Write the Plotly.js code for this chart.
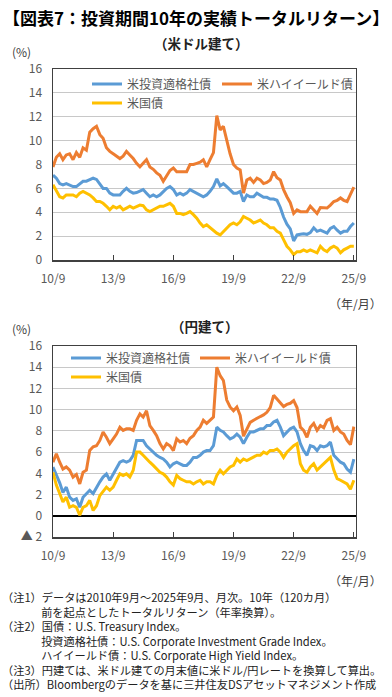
<!DOCTYPE html>
<html>
<head>
<meta charset="utf-8">
<script src="https://cdn.plot.ly/plotly-3.0.1.min.js"></script>
<style>
html,body{margin:0;padding:0;background:#fff;}
#chart{width:392px;height:697px;}
</style>
</head>
<body>
<div id="chart"></div>
<script>
// ---- data (every 2 months, 2010/9 - 2025/9) ----
const dates = [
'2010-09-01','2010-11-01',
'2011-01-01','2011-03-01','2011-05-01','2011-07-01','2011-09-01','2011-11-01',
'2012-01-01','2012-03-01','2012-05-01','2012-07-01','2012-09-01','2012-11-01',
'2013-01-01','2013-03-01','2013-05-01','2013-07-01','2013-09-01','2013-11-01',
'2014-01-01','2014-03-01','2014-05-01','2014-07-01','2014-09-01','2014-11-01',
'2015-01-01','2015-03-01','2015-05-01','2015-07-01','2015-09-01','2015-11-01',
'2016-01-01','2016-03-01','2016-05-01','2016-07-01','2016-09-01','2016-11-01',
'2017-01-01','2017-03-01','2017-05-01','2017-07-01','2017-09-01','2017-11-01',
'2018-01-01','2018-03-01','2018-05-01','2018-07-01','2018-09-01','2018-11-01',
'2019-01-01','2019-03-01','2019-05-01','2019-07-01','2019-09-01','2019-11-01',
'2020-01-01','2020-03-01','2020-05-01','2020-07-01','2020-09-01','2020-11-01',
'2021-01-01','2021-03-01','2021-05-01','2021-07-01','2021-09-01','2021-11-01',
'2022-01-01','2022-03-01','2022-05-01','2022-07-01','2022-09-01','2022-11-01',
'2023-01-01','2023-03-01','2023-05-01','2023-07-01','2023-09-01','2023-11-01',
'2024-01-01','2024-03-01','2024-05-01','2024-07-01','2024-09-01','2024-11-01',
'2025-01-01','2025-03-01','2025-05-01','2025-07-01','2025-09-01'
];

const seriesNames = ['米投資適格社債','米ハイイールド債','米国債'];

// USD basis
const usdIG = [
7.1,6.85,6.4,6.3,6.4,6.3,6.15,6.15,6.4,6.6,
6.6,6.7,6.85,6.75,6.4,6.0,6.0,5.6,5.45,5.45,
5.45,5.75,6.0,5.75,5.6,5.65,5.75,5.9,5.6,5.3,
5.45,5.3,5.45,5.75,6.0,6.15,5.9,5.45,5.6,5.45,
5.6,5.9,5.75,5.6,5.45,5.3,5.45,5.75,6.15,6.8,
6.2,6.4,6.15,5.9,5.6,5.6,5.75,4.9,5.45,5.3,
5.3,5.6,5.4,5.25,5.25,5.1,5.1,5.0,4.4,3.6,
3.0,2.6,1.6,2.1,2.15,2.2,2.15,2.3,2.7,2.4,
2.5,2.4,2.25,2.65,2.8,2.5,2.25,2.4,2.4,2.8,
3.1
];
const usdHY = [
7.8,8.6,8.9,8.4,8.8,8.9,8.4,9.0,8.6,9.4,
9.2,10.7,11.0,11.2,10.5,10.2,9.4,9.1,8.9,8.7,
8.5,8.7,9.1,8.8,8.5,8.1,7.8,8.1,8.4,7.8,
7.6,7.3,7.1,6.6,7.1,7.5,7.7,7.4,7.4,7.4,
7.4,8.0,8.0,8.1,8.2,8.4,7.8,8.4,9.0,12.1,
10.9,11.2,10.0,8.9,8.0,7.7,7.55,5.6,6.7,6.85,
6.5,6.85,6.7,6.4,6.5,6.7,7.4,6.9,6.7,5.9,
5.3,4.8,3.9,4.2,4.05,4.05,4.05,4.5,4.2,3.9,
4.4,4.35,4.35,4.6,4.9,5.0,5.2,5.0,4.9,5.5,
6.1
];
const usdTsy = [
6.3,5.75,5.3,5.2,5.45,5.45,5.45,5.3,5.6,5.75,
5.6,5.45,5.2,4.9,4.9,4.75,4.5,4.2,4.5,4.35,
4.5,4.2,4.35,4.5,4.35,4.5,4.6,4.55,4.2,4.05,
4.2,4.35,4.5,4.5,4.6,4.75,4.5,3.9,3.9,3.8,
3.9,4.05,3.8,3.5,3.1,2.8,2.95,2.7,2.5,2.25,
2.1,2.4,2.7,2.95,3.1,2.95,3.2,3.65,3.5,3.35,
3.1,3.2,3.35,3.1,2.95,2.7,2.7,2.4,2.25,1.7,
1.15,0.85,0.45,0.7,0.7,0.85,0.7,0.85,0.7,0.6,
1.15,0.85,0.7,1.0,1.15,1.0,0.6,0.85,1.0,1.15,
1.15
];

// JPY basis
const jpyIG = [
4.6,3.9,3.1,2.2,2.7,1.75,1.45,1.6,0.8,1.75,
2.1,2.4,2.1,2.7,3.2,3.65,3.95,3.35,3.95,4.4,
5.05,5.2,5.05,5.2,5.7,7.1,7.1,7.1,6.6,6.3,
6.0,5.7,5.5,5.35,5.05,4.6,4.9,5.05,4.9,4.75,
4.75,5.05,5.5,5.5,5.7,6.0,6.15,6.15,6.6,8.35,
8.05,7.9,7.55,7.25,7.4,7.7,7.4,6.8,7.4,7.9,
7.9,8.05,8.2,8.2,8.5,8.5,8.85,9.0,8.35,7.55,
7.9,8.2,8.35,7.9,6.8,6.15,5.7,6.6,6.5,6.15,
6.6,6.5,6.6,6.95,5.7,5.35,5.05,4.9,4.4,4.1,
5.35
];
const jpyHY = [
5.05,5.85,5.05,4.4,4.6,4.3,3.65,3.9,3.0,4.1,
4.3,6.15,6.5,6.6,7.1,7.9,7.4,6.8,7.25,7.7,
8.35,8.05,8.2,8.2,8.05,9.0,9.6,9.3,9.9,8.5,
8.05,7.55,6.8,6.3,6.8,6.6,6.15,7.25,6.95,7.1,
6.8,7.3,7.55,8.05,8.35,9.0,8.7,9.0,9.3,14.0,
13.2,12.75,10.9,10.25,9.9,10.25,9.45,7.5,8.2,8.8,
9.0,9.2,9.35,9.5,9.75,10.2,11.35,11.0,10.6,10.3,
10.5,10.6,10.85,10.2,8.35,8.05,7.4,8.35,8.7,8.05,
8.5,8.3,9.0,9.15,8.05,8.35,7.9,7.7,7.1,6.7,
8.4
];
const jpyTsy = [
4.1,2.9,2.1,1.3,1.75,0.8,0.95,0.8,0.05,0.8,
0.95,1.45,0.5,0.95,1.9,2.25,2.7,2.4,2.7,3.35,
3.95,3.8,3.95,3.65,4.3,6.0,6.0,5.7,5.35,5.05,
4.75,4.4,4.1,3.95,3.65,3.2,2.9,3.8,3.5,3.35,
3.2,3.2,3.0,3.2,3.35,3.0,3.2,3.2,3.0,3.8,
4.3,3.95,4.3,4.6,4.75,5.35,5.05,5.35,5.2,5.35,
5.5,5.7,5.7,6.0,5.85,6.15,6.15,6.3,6.0,5.5,
6.0,6.3,6.6,6.8,4.9,4.3,4.1,4.6,4.9,4.3,
4.6,4.9,5.2,5.5,4.3,3.5,3.35,3.2,3.0,2.5,
3.35
];

const xTickVals = ['2010-09-01','2013-09-01','2016-09-01','2019-09-01','2022-09-01','2025-09-01'];
const xTickText = ['10/9','13/9','16/9','19/9','22/9','25/9'];
const yTickVals1 = [0,2,4,6,8,10,12,14,16];
const yTickText1 = ['0','2','4','6','8','10','12','14','16'];
const yTickVals2 = [-2,0,2,4,6,8,10,12,14,16];
const yTickText2 = ['▲ 2','0','2','4','6','8','10','12','14','16'];

const footnoteLines = [
  '（注1）データは2010年9月～2025年9月、月次。10年（120カ月）',
  '\u3000\u3000\u3000\u2002前を起点としたトータルリターン（年率換算）。',
  '（注2）国債：U.S. Treasury Index。',
  '\u3000\u3000\u3000\u2002投資適格社債：U.S. Corporate Investment Grade Index。',
  '\u3000\u3000\u3000\u2002ハイイールド債：U.S. Corporate High Yield Index。',
  '（注3）円建ては、米ドル建ての月末値に米ドル/円レートを換算して算出。',
  '（出所）Bloombergのデータを基に三井住友DSアセットマネジメント作成'
];

// ---- styling ----
const W = 392, H = 697;
const FONT = '"Noto Sans CJK JP", "Noto Sans", sans-serif';
const colors = ['#5B9BD5','#ED7D31','#FFC000'];
const px = v => v / W;
const py = v => 1 - v / H;

function mk(y, i, xa, ya, leg) {
  return {
    x: dates, y: y, type: 'scatter', mode: 'lines',
    name: seriesNames[i], xaxis: xa, yaxis: ya, legend: leg,
    line: {color: colors[i], width: 3},
    hoverinfo: 'skip'
  };
}

const data = [
  mk(usdIG, 0, 'x', 'y', 'legend'),
  mk(usdHY, 1, 'x', 'y', 'legend2'),
  mk(usdTsy, 2, 'x', 'y', 'legend3'),
  mk(jpyIG, 0, 'x2', 'y2', 'legend4'),
  mk(jpyHY, 1, 'x2', 'y2', 'legend5'),
  mk(jpyTsy, 2, 'x2', 'y2', 'legend6')
];

const tickFont = {family: FONT, size: 12, color: '#595959'};
function xAxis(anchor) {
  return {
    domain: [px(53), px(355.5)], anchor: anchor, type: 'date',
    range: ['2010-09-01', '2025-10-01'],
    tickmode: 'array', tickvals: xTickVals, ticktext: xTickText,
    ticks: 'inside', ticklen: 5, tickwidth: 1, tickcolor: '#404040',
    showline: true, mirror: true, linecolor: '#404040', linewidth: 1.5,
    showgrid: false, zeroline: false, tickfont: tickFont,
    ticklabelstandoff: 7, fixedrange: true
  };
}
function yAxis(anchor, dom, rng, tv, tt, zl) {
  return {
    domain: dom, anchor: anchor, range: rng,
    tickmode: 'array', tickvals: tv, ticktext: tt,
    showline: true, mirror: true, linecolor: '#404040', linewidth: 1.5,
    showgrid: true, gridcolor: '#c8c8c8', gridwidth: 1,
    zeroline: zl, zerolinecolor: '#000000', zerolinewidth: 1.5,
    ticks: '', tickfont: tickFont, ticklabelstandoff: 7, fixedrange: true
  };
}

function legendAt(x0, yc) {
  return {
    x: px(x0), y: py(yc), xanchor: 'left', yanchor: 'middle',
    xref: 'paper', yref: 'paper',
    bgcolor: 'rgba(0,0,0,0)', borderwidth: 0,
    font: {family: FONT, size: 12, color: '#595959'},
    itemclick: false, itemdoubleclick: false
  };
}

function ann(text, x, y, opt) {
  return Object.assign({
    text: text, x: px(x), y: py(y), xref: 'paper', yref: 'paper',
    showarrow: false, xanchor: 'left', yanchor: 'middle', borderpad: 0,
    font: {family: FONT, size: 11.5, color: '#333333'}
  }, opt || {});
}

const annotations = [
  ann('<b>【図表7：投資期間10年の実績トータルリターン】</b>', 196, 17,
      {xanchor: 'center', font: {family: FONT, size: 17, color: '#000000'}}),
  ann('<b>（米ドル建て）</b>', 202, 43,
      {xanchor: 'center', font: {family: FONT, size: 13.5, color: '#222222'}}),
  ann('(%)', 11, 52, {font: {family: FONT, size: 12, color: '#404040'}}),
  ann('（年/月）', 383, 303, {xanchor: 'right', font: {family: FONT, size: 12, color: '#404040'}}),
  ann('<b>（円建て）</b>', 205, 326,
      {xanchor: 'center', font: {family: FONT, size: 13.5, color: '#222222'}}),
  ann('(%)', 11, 328, {font: {family: FONT, size: 12, color: '#404040'}}),
  ann('（年/月）', 383, 580, {xanchor: 'right', font: {family: FONT, size: 12, color: '#404040'}}),
  ann(footnoteLines.join('<br>'), 1, 588,
      {yanchor: 'top', align: 'left', font: {family: FONT, size: 11.2, color: '#222222'}})
];

const layout = {
  width: W, height: H,
  margin: {l: 0, r: 0, t: 0, b: 0, pad: 0},
  paper_bgcolor: '#ffffff', plot_bgcolor: '#ffffff',
  font: {family: FONT, size: 12, color: '#595959'},
  showlegend: true,
  xaxis: xAxis('y'),
  yaxis: yAxis('x', [py(260), py(69)], [0, 16], yTickVals1, yTickText1, false),
  xaxis2: xAxis('y2'),
  yaxis2: yAxis('x2', [py(537), py(346)], [-2, 16], yTickVals2, yTickText2, true),
  legend: legendAt(87, 84),
  legend2: legendAt(217, 84),
  legend3: legendAt(87, 103),
  legend4: legendAt(66, 358),
  legend5: legendAt(195, 358),
  legend6: legendAt(66, 377),
  annotations: annotations
};

Plotly.newPlot('chart', data, layout, {displayModeBar: false, staticPlot: true});
</script>
</body>
</html>
